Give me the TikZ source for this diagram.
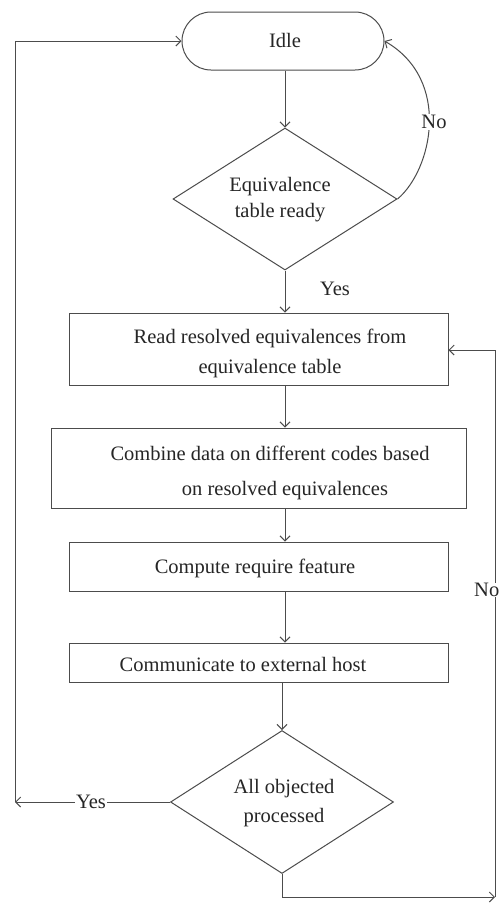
\documentclass[tikz,border=0pt]{standalone}
\usepackage{fontspec}
\setmainfont{Liberation Serif}
\usetikzlibrary{arrows.meta,shapes.geometric}
\begin{document}
\begin{tikzpicture}[x=1pt,y=-1pt,
  line/.style={draw=black!70, line width=1pt},
  arr/.style={line, -{Straight Barb[length=5pt,width=10pt]}},
  box/.style={line, rectangle, inner sep=0pt},
  dia/.style={line, diamond, inner sep=0pt},
  lbl/.style={font=\fontsize{20.5}{24}\selectfont, text=black!85, inner sep=1pt},
]
\useasboundingbox[fill=white] (0,0) rectangle (500,903);
% shapes
\node[box, rounded corners=29pt, minimum width=202pt, minimum height=58pt] (idle) at (283,41) {};
\node[dia, minimum width=224pt, minimum height=142pt] (d1) at (285,199) {};
\node[box, minimum width=379pt, minimum height=72pt] (b1) at (258.5,349) {};
\node[box, minimum width=415pt, minimum height=80pt] (b2) at (258.5,468) {};
\node[box, minimum width=379pt, minimum height=49pt] (b3) at (258.5,566.5) {};
\node[box, minimum width=379pt, minimum height=39pt] (b4) at (258.5,662.5) {};
\node[dia, minimum width=223pt, minimum height=143pt] (d2) at (282,802) {};
% texts
\node[lbl] (tidle) at (285,40) {Idle};
\node[lbl, align=center, font=\fontsize{20.5}{26}\selectfont] (td1) at (280,200) {Equivalence\\table ready};
\node[lbl, align=center, font=\fontsize{20.5}{30}\selectfont] (tb1) at (270,353) {Read resolved equivalences from\\equivalence table};
\node[lbl] (tb2a) at (270,453) {Combine data on different codes based};
\node[lbl] (tb2b) at (285,491) {on resolved equivalences};
\node[lbl] (tb3) at (255,568) {Compute require feature};
\node[lbl] (tb4) at (243,664) {Communicate to external host};
\node[lbl, align=center, font=\fontsize{20.5}{29}\selectfont] (td2) at (284,803) {All objected\\processed};
% helper coordinates
\coordinate (yl) at (15,802);
\coordinate (yt) at (15,41);
\coordinate (nb) at (282,897);
\coordinate (nr) at (495,897);
\coordinate (nt) at (495,350);
% connectors
\draw[arr] (idle.south -| d1.north) -- (d1.north);
\draw[arr] (d1.east) .. controls (432,170) and (452,80) .. (idle.east);
\node[lbl, fill=white] (no1) at (434,122) {No};
\draw[arr] (d1.south) -- (d1.south |- b1.north);
\node[lbl] (yes1) at (335,289) {Yes};
\draw[arr] (d1.south |- b1.south) -- (d1.south |- b2.north);
\draw[arr] (d1.south |- b2.south) -- (d1.south |- b3.north);
\draw[arr] (d1.south |- b3.south) -- (d1.south |- b4.north);
\draw[arr] (d2.north |- b4.south) -- (d2.north);
\draw[arr] (d2.west) -- (yl);
\node[lbl, fill=white] (yes2) at (91,802) {Yes};
\draw[line] (yl) -- (yt);
\draw[arr] (yt) -- (idle.west);
\draw[arr] (d2.south) -- (nb) -- (nr);
\draw[line] (nr) -- (nt);
\draw[arr] (nt) -- (b1.east |- nt);
\node[lbl, fill=white, anchor=east, inner sep=0.5pt] (no2) at (500,590) {No};
\end{tikzpicture}
\end{document}
